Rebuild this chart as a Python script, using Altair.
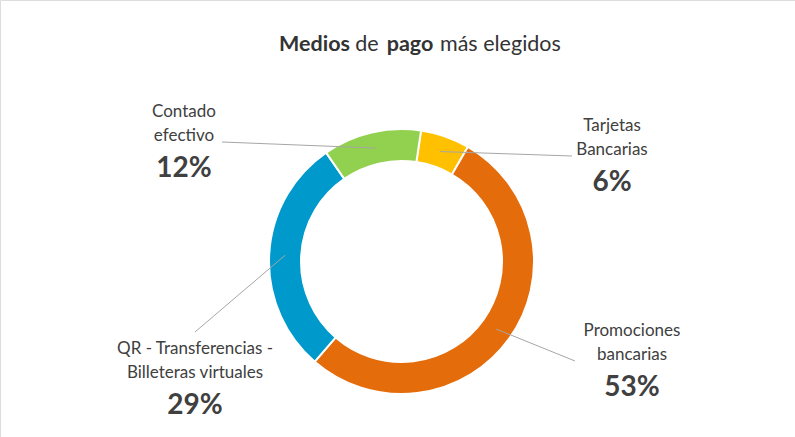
import math
import altair as alt
import pandas as pd

# ---- data ----
CATEGORIES = ["Tarjetas Bancarias", "Promociones bancarias",
              "QR - Transferencias - Billeteras virtuales", "Contado efectivo"]
NAME_LINES = ["Tarjetas\nBancarias", "Promociones\nbancarias",
              "QR - Transferencias -\nBilleteras virtuales", "Contado\nefectivo"]
VALUES = [6, 53, 29, 12]
PCT_LABELS = ["6%", "53%", "29%", "12%"]
COLORS = ["#FFC000", "#E46C0A", "#0099CC", "#92D050"]

# ---- layout (pixels) ----
W, H = 795, 437
CX, CY = 401.5, 261.5
R_IN, R_OUT = 100.5, 132.5
R_MID = 116.5
START = math.radians(8.5)
LABEL_X = [612, 632, 195, 184]
LABEL_Y = [131, 336, 354, 117]
LEADER_X = [572, 575, 195, 222]
LEADER_Y = [156, 361, 332, 142]
FONT = "Lato"
TXT = "#404040"

df = pd.DataFrame({
    "category": CATEGORIES,
    "name": NAME_LINES,
    "value": VALUES,
    "pct": PCT_LABELS,
    "order": list(range(len(VALUES))),
    "lx": LABEL_X,
    "ly": LABEL_Y,
    "ex": LEADER_X,
    "ey": LEADER_Y,
})

base = alt.Chart(df)

arcs = base.mark_arc(innerRadius=R_IN, outerRadius=R_OUT, stroke="white", strokeWidth=2).encode(
    theta=alt.Theta("value:Q", stack=True, scale=alt.Scale(range=[START, START + 2 * math.pi])),
    order=alt.Order("order:Q"),
    color=alt.Color("category:N", scale=alt.Scale(domain=CATEGORIES, range=COLORS), legend=None),
    x=alt.value(CX),
    y=alt.value(CY),
)

leaders = base.transform_joinaggregate(total="sum(value)").transform_window(
    cum="sum(value)", sort=[alt.SortField("order")], frame=[None, 0]
).transform_calculate(
    mid=f"{START} + 2*PI*(datum.cum - datum.value/2)/datum.total"
).transform_calculate(
    x1=f"{CX} + {R_MID}*sin(datum.mid)",
    y1=f"{CY} - {R_MID}*cos(datum.mid)",
).mark_rule(color="#A6A6A6", strokeWidth=1).encode(
    x=alt.X("x1:Q", scale=None, axis=None),
    y=alt.Y("y1:Q", scale=None, axis=None),
    x2="ex:Q",
    y2="ey:Q",
)

names = base.mark_text(font=FONT, fontSize=17, color=TXT, lineBreak="\n",
                       lineHeight=24, align="center", baseline="alphabetic").encode(
    x=alt.X("lx:Q", scale=None, axis=None),
    y=alt.Y("ly:Q", scale=None, axis=None),
    text="name:N",
)

pcts = base.transform_calculate(py="datum.ly + 60").mark_text(
    font=FONT, fontSize=28, fontWeight="bold", color=TXT, align="center", baseline="alphabetic"
).encode(
    x=alt.X("lx:Q", scale=None, axis=None),
    y=alt.Y("py:Q", scale=None, axis=None),
    text="pct:N",
)

TITLE_PARTS = ["Medios", "de", "pago", "más elegidos"]
TITLE_BOLD = ["bold", "normal", "bold", "normal"]
TITLE_X = [350, 367, 410, 440]
TITLE_ALIGN = ["right", "center", "center", "left"]
tdf = pd.DataFrame({"t": TITLE_PARTS, "w": TITLE_BOLD, "x": TITLE_X, "a": TITLE_ALIGN})
title_layers = []
for i in range(len(TITLE_PARTS)):
    title_layers.append(
        alt.Chart(tdf.iloc[[i]]).mark_text(
            font=FONT, fontSize=21.5, fontWeight=TITLE_BOLD[i], color="#333333",
            align=TITLE_ALIGN[i], baseline="alphabetic"
        ).encode(
            x=alt.X("x:Q", scale=None, axis=None),
            y=alt.value(51),
            text="t:N",
        )
    )

chart = alt.layer(arcs, leaders, names, pcts, *title_layers).properties(
    width=W, height=H, autosize=alt.AutoSizeParams(type="none"), padding=0
).configure_view(stroke=None).configure(background="white")

chart.save("out.html", embed_options={"renderer": "svg", "actions": False})
